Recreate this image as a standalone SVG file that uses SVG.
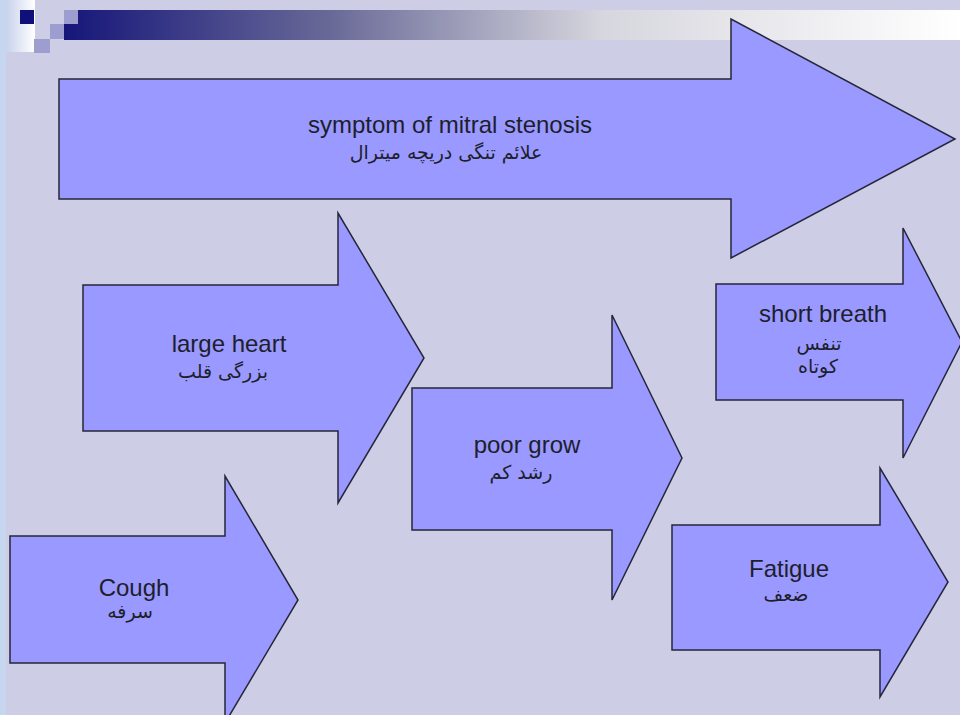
<svg xmlns="http://www.w3.org/2000/svg" width="960" height="715" viewBox="0 0 960 715">
  <defs>
    <linearGradient id="bar" x1="64" y1="0" x2="960" y2="0" gradientUnits="userSpaceOnUse">
      <stop offset="0" stop-color="#16167a"/>
      <stop offset="0.3" stop-color="#6a6a98"/>
      <stop offset="0.6" stop-color="#d6d6de"/>
      <stop offset="1" stop-color="#ffffff"/>
    </linearGradient>
    <linearGradient id="strip" x1="0" y1="0" x2="1" y2="0">
      <stop offset="0" stop-color="#c8d2ec"/>
      <stop offset="1" stop-color="#ffffff"/>
    </linearGradient>
    <style>
      .arrow { fill: #9999ff; stroke: #26263a; stroke-width: 1.5; stroke-linejoin: miter; }
      .en { font-family: "Liberation Sans", Arial, sans-serif; font-size: 24px; fill: #1e1e2c; text-anchor: middle; }
      .fa { font-family: "DejaVu Sans", "Noto Sans", sans-serif; font-size: 19px; fill: #1e1e2c; text-anchor: middle; direction: rtl; }
    </style>
  </defs>

  <!-- background -->
  <rect x="0" y="0" width="960" height="715" fill="#cdcde6"/>
  <rect x="0" y="0" width="6" height="715" fill="#c6d6ee"/>
  <rect x="6" y="0" width="29" height="52" fill="url(#strip)"/>
  <rect x="64" y="10" width="896" height="30" fill="url(#bar)"/>
  <rect x="20" y="10" width="14" height="14" fill="#10107a"/>
  <rect x="64" y="10" width="14" height="14" fill="#9d9dcf"/>
  <rect x="50" y="24" width="14" height="15" fill="#9d9dcf"/>
  <rect x="34" y="39" width="16" height="14" fill="#9d9dcf"/>

  <g id="symptom">
    <polygon class="arrow" points="59,79 731,79 731,19 955,139 731,258 731,199 59,199"/>
    <text class="en" x="450" y="133">symptom of mitral stenosis</text>
    <text class="fa" x="446" y="159">علائم تنگی دریچه میترال</text>
  </g>

  <g id="large-heart">
    <polygon class="arrow" points="83,285 338,285 338,213 424,358 338,503 338,431 83,431"/>
    <text class="en" x="229" y="352">large heart</text>
    <text class="fa" x="223" y="378">بزرگی قلب</text>
  </g>

  <g id="short-breath">
    <polygon class="arrow" points="716,284 903,284 903,228 962,342 903,458 903,400 716,400"/>
    <text class="en" x="823" y="322">short breath</text>
    <text class="fa" x="819" y="350">تنفس</text>
    <text class="fa" x="818" y="373">کوتاه</text>
  </g>

  <g id="poor-grow">
    <polygon class="arrow" points="412,388 612,388 612,315 682,458 612,600 612,530 412,530"/>
    <text class="en" x="527" y="453">poor grow</text>
    <text class="fa" x="521" y="479">رشد کم</text>
  </g>

  <g id="cough">
    <polygon class="arrow" points="10,536 225,536 225,476 298,600 225,723 225,663 10,663"/>
    <text class="en" x="134" y="596">Cough</text>
    <text class="fa" x="130" y="618">سرفه</text>
  </g>

  <g id="fatigue">
    <polygon class="arrow" points="672,525 880,525 880,468 948,582 880,697 880,650 672,650"/>
    <text class="en" x="789" y="577">Fatigue</text>
    <text class="fa" x="786" y="601">ضعف</text>
  </g>

  <g id="connectors"/>
</svg>
